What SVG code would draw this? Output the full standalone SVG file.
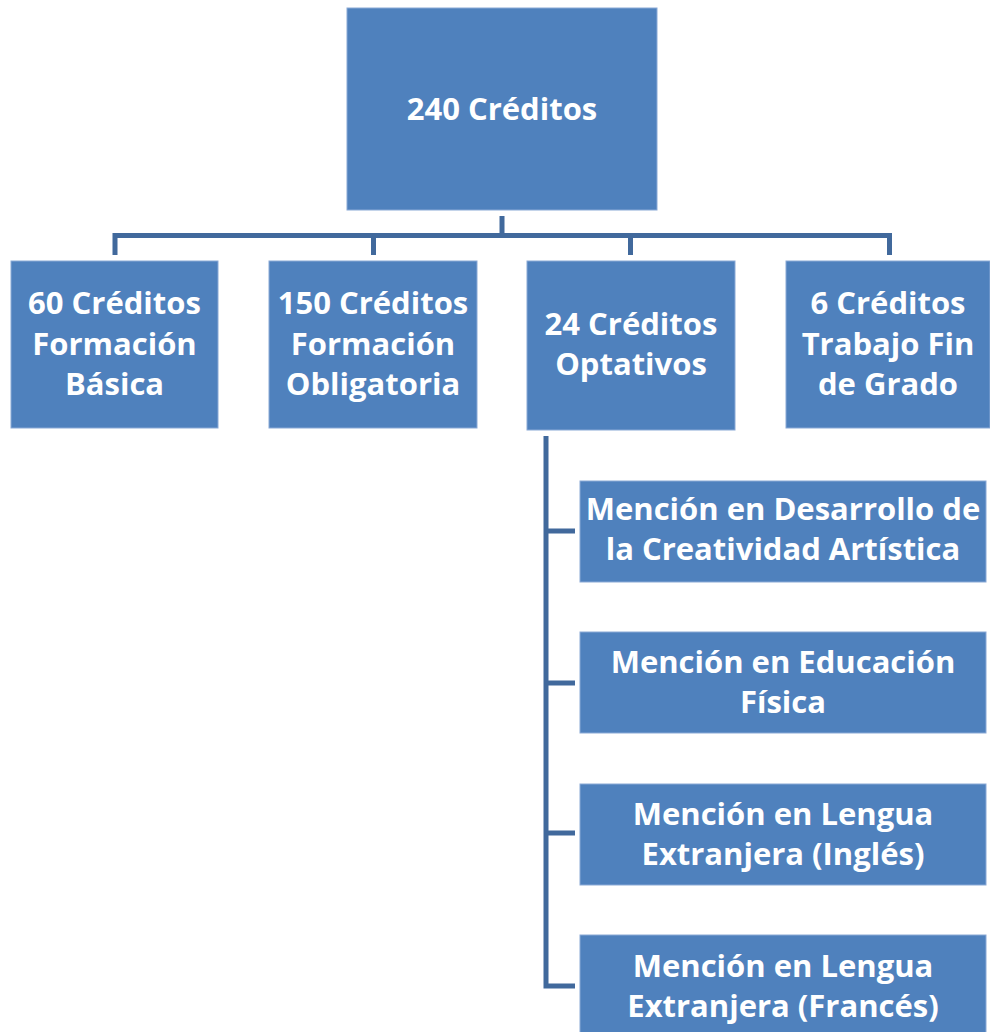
<svg xmlns="http://www.w3.org/2000/svg" width="990" height="1032" viewBox="0 0 990 1032">
<style>
.box{fill:#4F81BD;stroke:#8AA9D6;stroke-width:1}
.t{font-family:"Open Sans","Liberation Sans",sans-serif;font-weight:bold;font-size:31px;fill:#fff;text-anchor:middle}
.c{fill:none;stroke:#41699C;stroke-width:5}
</style>
<rect width="990" height="1032" fill="#fff"/>
<g id="connectors">
<path class="c" d="M502,216V235.5M115,255V235.5H889.5V255M373.5,235.5V255M630.5,235.5V255"/>
<path class="c" d="M546,436V986H575M546,531H575M546,683H575M546,833H575"/>
</g>
<g id="n0"><rect class="box" x="347" y="8" width="310" height="202"/><text class="t" x="502" y="120">240 Créditos</text></g>
<g id="n1"><rect class="box" x="11" y="261" width="207" height="167"/><text class="t" x="114.5" y="314">60 Créditos</text><text class="t" x="114.5" y="355">Formación</text><text class="t" x="114.5" y="395">Básica</text></g>
<g id="n2"><rect class="box" x="269" y="261" width="208" height="167"/><text class="t" x="373" y="314">150 Créditos</text><text class="t" x="373" y="355">Formación</text><text class="t" x="373" y="395">Obligatoria</text></g>
<g id="n3"><rect class="box" x="527" y="261" width="208" height="169"/><text class="t" x="631" y="335">24 Créditos</text><text class="t" x="631" y="375">Optativos</text></g>
<g id="n4"><rect class="box" x="786" y="261" width="204" height="167"/><text class="t" x="888" y="314">6 Créditos</text><text class="t" x="888" y="355">Trabajo Fin</text><text class="t" x="888" y="395">de Grado</text></g>
<g id="n5"><rect class="box" x="580" y="481" width="406" height="101"/><text class="t" x="783" y="520">Mención en Desarrollo de</text><text class="t" x="783" y="560">la Creatividad Artística</text></g>
<g id="n6"><rect class="box" x="580" y="632" width="406" height="101"/><text class="t" x="783" y="673">Mención en Educación</text><text class="t" x="783" y="713">Física</text></g>
<g id="n7"><rect class="box" x="580" y="784" width="406" height="101"/><text class="t" x="783" y="825">Mención en Lengua</text><text class="t" x="783" y="865">Extranjera (Inglés)</text></g>
<g id="n8"><rect class="box" x="580" y="935" width="406" height="101"/><text class="t" x="783" y="977">Mención en Lengua</text><text class="t" x="783" y="1017">Extranjera (Francés)</text></g>
</svg>
